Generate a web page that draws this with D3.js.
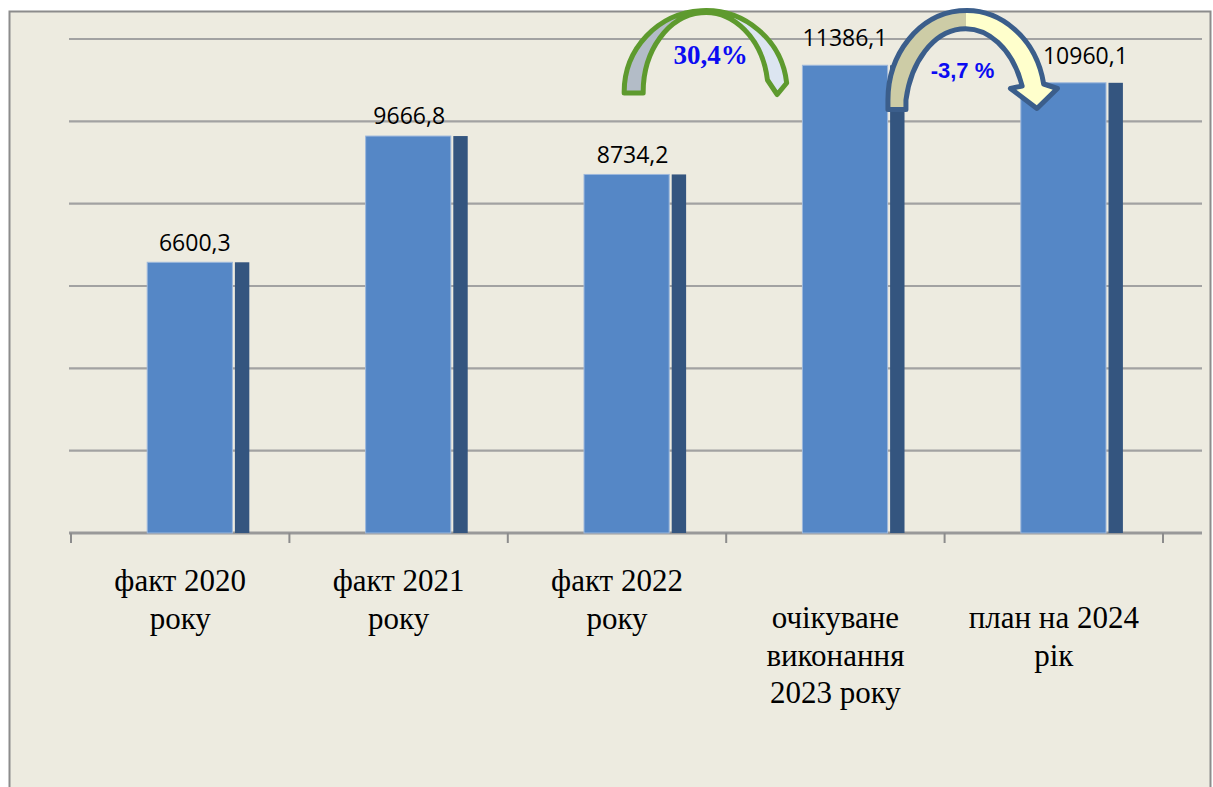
<!DOCTYPE html>
<html>
<head>
<meta charset="utf-8">
<script src="https://cdn.jsdelivr.net/npm/d3@7"></script>
<style>
  html, body { margin: 0; padding: 0; background: #ffffff; }
  svg { display: block; }
</style>
</head>
<body>
<svg id="chart" width="1213" height="787"></svg>
<script>
// ---- data ----
const categories = [
  ["факт 2020", "року"],
  ["факт 2021", "року"],
  ["факт 2022", "року"],
  ["очікуване", "виконання", "2023 року"],
  ["план на 2024", "рік"]
];
const values = [6600.3, 9666.8, 8734.2, 11386.1, 10960.1];
const valueLabels = ["6600,3", "9666,8", "8734,2", "11386,1", "10960,1"];
const yTicks = [0, 2000, 4000, 6000, 8000, 10000, 12000];
const changeLabels = ["30,4%", "-3,7 %"];

// ---- layout ----
const svg = d3.select("#chart");
const W = 1213, H = 787;
const plot = { left: 71, right: 1163, top: 39, bottom: 533 };

svg.append("rect").attr("x", 0).attr("y", 0).attr("width", W).attr("height", H).attr("fill", "#ffffff");
svg.append("rect").attr("x", 9.5).attr("y", 11.5).attr("width", 1201).attr("height", 790)
  .attr("fill", "#EDEBE0").attr("stroke", "#8C8C8C").attr("stroke-width", 2);

const x = d3.scaleBand().domain(d3.range(categories.length)).range([plot.left, plot.right]).padding(0);
const y = d3.scaleLinear().domain([0, 12000]).range([plot.bottom, plot.top]);
const bw = x.bandwidth();

// gridlines
svg.append("g").selectAll("line").data(yTicks.slice(1)).join("line")
  .attr("x1", 69).attr("x2", 1202)
  .attr("y1", d => y(d)).attr("y2", d => y(d))
  .attr("stroke", "#A2A2A2").attr("stroke-width", 2.2);

// axis baseline + ticks
const xAxis = d3.axisBottom(x).tickValues([]).tickSizeOuter(0);
const axisG = svg.append("g").attr("transform", `translate(0,${plot.bottom})`).call(xAxis);
axisG.select(".domain").remove();
axisG.append("line").attr("x1", 69).attr("x2", 1202).attr("y1", 0).attr("y2", 0)
  .attr("stroke", "#999999").attr("stroke-width", 3);
const boundaries = d3.range(categories.length).map(i => x(i)).concat([x(categories.length - 1) + bw]);
axisG.selectAll(".tk").data(boundaries).join("line").attr("class", "tk")
  .attr("x1", d => d).attr("x2", d => d).attr("y1", 0).attr("y2", 10)
  .attr("stroke", "#8C8C8C").attr("stroke-width", 2);

// bars (front face + dark side)
const frontOff = 0.349 * bw, frontW = 0.39 * bw, sideGap = 2.5, sideW = 0.066 * bw;
const bars = svg.append("g");
bars.selectAll("rect.side").data(values).join("rect").attr("class", "side")
  .attr("x", (d, i) => x(i) + frontOff + frontW + sideGap)
  .attr("y", d => y(d) + 1)
  .attr("width", sideW)
  .attr("height", d => plot.bottom - y(d) - 1)
  .attr("fill", "#34557F");
bars.selectAll("rect.front").data(values).join("rect").attr("class", "front")
  .attr("x", (d, i) => x(i) + frontOff)
  .attr("y", d => y(d) + 1)
  .attr("width", frontW)
  .attr("height", d => plot.bottom - y(d) - 1)
  .attr("fill", "#5587C6")
  .attr("stroke", "#9DB8DC").attr("stroke-width", 1);

// value labels
const labelNudge = [[5, 10], [1, 11], [6, 10], [0, 18], [22, 18]];
svg.append("g").selectAll("text").data(values).join("text")
  .attr("x", (d, i) => x(i) + frontOff + frontW / 2 + labelNudge[i][0])
  .attr("y", d => y(d))
  .attr("dy", (d, i) => -labelNudge[i][1])
  .attr("text-anchor", "middle")
  .attr("font-family", "'Open Sans', 'Liberation Sans', sans-serif")
  .attr("font-size", 23)
  .attr("fill", "#000")
  .text((d, i) => valueLabels[i]);

// category labels
const catBaseline = [591, 591, 591, 628, 628];
const catG = svg.append("g");
categories.forEach((lines, i) => {
  const t = catG.append("text")
    .attr("text-anchor", "middle")
    .attr("font-family", "'Liberation Serif', 'Times New Roman', serif")
    .attr("font-size", 31)
    .attr("fill", "#000");
  lines.forEach((ln, j) => {
    t.append("tspan").attr("x", x(i) + bw / 2).attr("y", catBaseline[i] + j * 37.5).text(ln);
  });
});

// ---- curved arrows ----
const defs = svg.append("defs");
function splitGrad(id, cx, c1, c2) {
  const g = defs.append("linearGradient").attr("id", id).attr("gradientUnits", "userSpaceOnUse")
    .attr("x1", cx - 1).attr("x2", cx + 1).attr("y1", 0).attr("y2", 0);
  g.append("stop").attr("offset", "50%").attr("stop-color", c1);
  g.append("stop").attr("offset", "50%").attr("stop-color", c2);
}

function ell(cx, cy, rx, ry, yy, side) {
  const dy = cy - yy;
  return [cx + side * rx * Math.sqrt(Math.max(0, 1 - (dy / ry) ** 2)), yy];
}

// green arrow (between 2022 and 2023)
{
  const cx = x(2) + 0.906 * bw, cy = 92;
  splitGrad("gGreen", cx, "#B3BCC7", "#DCE5F1");
  const ro = [81.5, 81.5], ri = [62.5, 79.5];
  const oR = ell(cx, cy, ro[0], ro[1], 83, 1);
  const iR = ell(cx, cy, ri[0], ri[1], 80, 1);
  const tip = [cx + 71.5, 94.5];
  const p = `M${cx - ro[0]},93 L${cx - ro[0]},${cy} A${ro[0]},${ro[1]} 0 0 1 ${oR[0]},${oR[1]}
    L${tip[0]},${tip[1]} L${iR[0]},${iR[1]}
    A${ri[0]},${ri[1]} 0 0 0 ${cx - ri[0]},${cy} L${cx - ri[0]},93 Z`;
  svg.append("path").attr("d", p).attr("fill", "url(#gGreen)")
    .attr("stroke", "#5E9A2E").attr("stroke-width", 5).attr("stroke-linejoin", "round");
  svg.append("text").attr("x", cx + 5).attr("y", 64).attr("text-anchor", "middle")
    .attr("font-family", "'Liberation Serif', 'Times New Roman', serif")
    .attr("font-weight", "bold").attr("font-size", 27).attr("fill", "#0B0BF2")
    .text(changeLabels[0]);
}

// blue arrow (between 2023 and 2024)
{
  const cx = x(3) + 1.1 * bw, cy = 100;
  splitGrad("gBlue", cx, "#CDCCA6", "#FFFFCC");
  const ro = [78.5, 89.5], ri = [60.5, 87.5];
  const oN = ell(cx, cy, ro[0], ro[1], 84, 1);
  const iN = ell(cx, cy, ri[0], ri[1], 86, 1);
  const p = `M${cx - ro[0]},109.5 L${cx - ro[0]},${cy} A${ro[0]},${ro[1]} 0 0 1 ${oN[0]},${oN[1]}
    L${cx + 91},88.5 L${cx + 70.5},108.5 L${cx + 44},88.5 L${iN[0] - 4},${iN[1]}
    A${ri[0]},${ri[1]} 0 0 0 ${cx - ri[0]},${cy} L${cx - ri[0]},109.5 Z`;
  svg.append("path").attr("d", p).attr("fill", "url(#gBlue)")
    .attr("stroke", "#3B5E8B").attr("stroke-width", 5).attr("stroke-linejoin", "round");
  svg.append("text").attr("x", cx - 4).attr("y", 78).attr("text-anchor", "middle")
    .attr("font-family", "'Liberation Sans', Arial, sans-serif")
    .attr("font-weight", "bold").attr("font-size", 22).attr("fill", "#0B0BF2")
    .text(changeLabels[1]);
}
</script>
</body>
</html>
